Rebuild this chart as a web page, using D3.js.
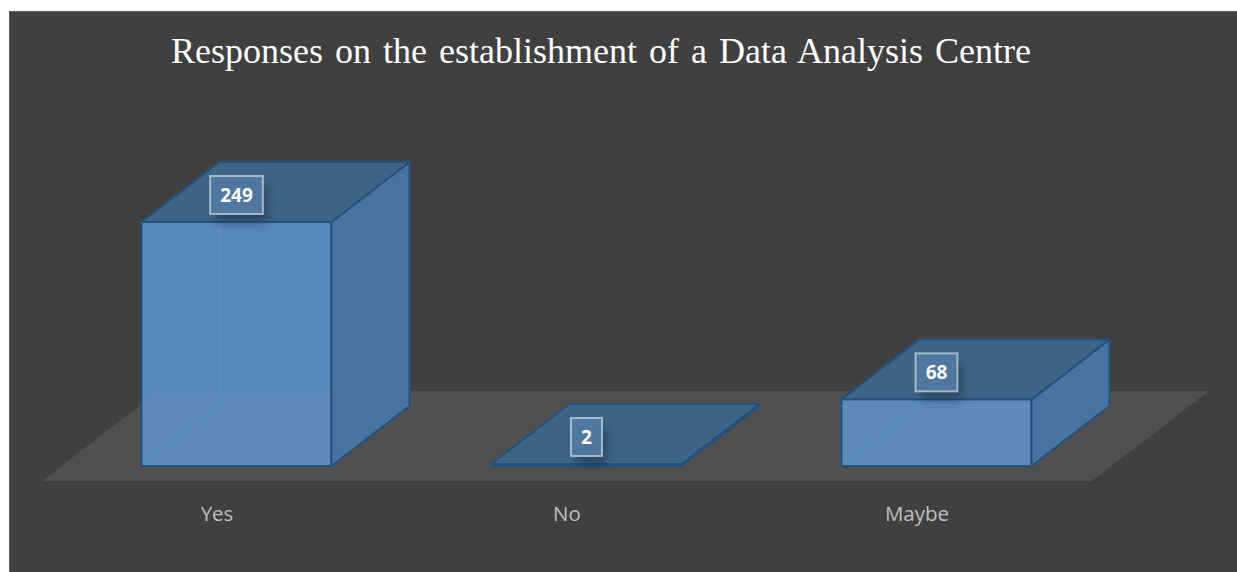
<!DOCTYPE html>
<html>
<head>
<meta charset="utf-8">
<script src="https://cdn.jsdelivr.net/npm/d3@7"></script>
<style>
  body { margin: 0; background: #ffffff; }
  svg { display: block; }
</style>
</head>
<body>
<div id="chart"></div>
<script>
var width = 1237
var height = 572

// data
var categories = ['Yes', 'No', 'Maybe'];
var responses = [249, 2, 68];
var chartTitle = 'Responses on the establishment of a Data Analysis Centre';

var svg = d3.select('#chart')
            .append('svg')
            .attr('width', width)
            .attr('height', height);

var defs = svg.append('defs');
var blur = defs.append('filter').attr('id', 'lblShadow')
               .attr('x', '-50%').attr('y', '-50%').attr('width', '200%').attr('height', '200%');
blur.append('feGaussianBlur').attr('stdDeviation', 5);

// panel
svg.append('rect')
   .attr('x', 9.5).attr('y', 11.5)
   .attr('width', width).attr('height', height)
   .attr('fill', '#404040')
   .attr('stroke', '#5c5c5c');

svg.append('text')
   .attr('x', 601)
   .attr('y', 63)
   .attr('text-anchor', 'middle')
   .attr('font-family', '"Liberation Serif", "Times New Roman", serif')
   .attr('font-size', 36)
   .attr('word-spacing', 3)
   .attr('fill', '#ffffff')
   .text(chartTitle);

//////////////// 3D geometry ////////////////
var floorFront = 481;
var floorDepth = { dx: 117, dy: 90 };
var barDepth = { dx: 78, dy: 60 };
var shift = { dx: (floorDepth.dx - barDepth.dx) / 2, dy: (floorDepth.dy - barDepth.dy) / 2 };

var x = d3.scaleBand()
          .domain(categories)
          .range([42, 1092])
          .paddingInner(0)
          .paddingOuter(0);

var barW = 190;

var y = d3.scaleLinear()
          .domain([0, 250])
          .range([0, 245]);

function pts(a) { return a.map(function(p){ return p.join(','); }).join(' '); }

// floor
var x0 = x.range()[0], x1 = x.range()[1];
svg.append('polygon')
   .attr('points', pts([
      [x0, floorFront], [x1, floorFront],
      [x1 + floorDepth.dx, floorFront - floorDepth.dy],
      [x0 + floorDepth.dx, floorFront - floorDepth.dy]]))
   .attr('fill', '#514f50');

var data = categories.map(function(c, i){ return { cat: c, value: responses[i] }; });

var stroke = '#24527f';

var bars = svg.selectAll('g.bar')
              .data(data)
              .enter()
              .append('g')
              .attr('class', 'bar');

bars.each(function(d){
    var g = d3.select(this);
    var l = x(d.cat) + (x.bandwidth() - barW) / 2 + shift.dx;
    var r = l + barW;
    var b = floorFront - shift.dy;
    var t = b - y(d.value);
    var dx = barDepth.dx, dy = barDepth.dy;

    // hidden back edges
    g.append('polyline')
     .attr('points', pts([[l, b], [l + dx, b - dy], [r + dx, b - dy]]))
     .attr('fill', 'none').attr('stroke', '#5d93c7').attr('stroke-width', 1.2);
    g.append('line')
     .attr('x1', l + dx).attr('y1', b - dy).attr('x2', l + dx).attr('y2', t - dy)
     .attr('stroke', '#5d93c7').attr('stroke-width', 1.2);

    if (t < b) {
      // front
      g.append('polygon')
       .attr('points', pts([[l, t], [r, t], [r, b], [l, b]]))
       .attr('fill', '#5b8fc4').attr('fill-opacity', 0.93)
       .attr('stroke', stroke).attr('stroke-width', 2).attr('stroke-linejoin', 'round');
      // side
      g.append('polygon')
       .attr('points', pts([[r, t], [r + dx, t - dy], [r + dx, b - dy], [r, b]]))
       .attr('fill', '#48759f')
       .attr('stroke', stroke).attr('stroke-width', 2).attr('stroke-linejoin', 'round');
    }
    // top
    g.append('polygon')
     .attr('points', pts([[l, t], [r, t], [r + dx, t - dy], [l + dx, t - dy]]))
     .attr('fill', '#3e6587')
     .attr('stroke', stroke).attr('stroke-width', 2).attr('stroke-linejoin', 'round');

    // data label
    var cx = (l + r) / 2, cy = t - 27;
    var lbl = g.append('g').attr('class', 'label');
    var shadow = lbl.append('rect');
    var box = lbl.append('rect');
    var txt = lbl.append('text')
       .attr('x', cx).attr('y', cy + 7)
       .attr('text-anchor', 'middle')
       .attr('font-family', '"Open Sans", sans-serif')
       .attr('font-weight', 'bold')
       .attr('font-size', 19)
       .attr('fill', '#ffffff')
       .text(d.value);
    var bw = txt.node().getBBox().width + 20, bh = 38;
    shadow.attr('x', cx - bw / 2 + 5).attr('y', cy - bh / 2 + 9)
          .attr('width', bw).attr('height', bh)
          .attr('fill', '#1e3348').attr('opacity', 0.55)
          .attr('filter', 'url(#lblShadow)');
    box.attr('x', cx - bw / 2).attr('y', cy - bh / 2)
       .attr('width', bw).attr('height', bh)
       .attr('fill', '#4f77a0')
       .attr('stroke', '#c9d3dd').attr('stroke-opacity', 0.75).attr('stroke-width', 2);
});

// category labels
svg.selectAll('text.cat')
   .data(categories)
   .enter()
   .append('text')
   .attr('class', 'cat')
   .attr('x', function(d){ return x(d) + x.bandwidth() / 2; })
   .attr('y', 521)
   .attr('text-anchor', 'middle')
   .attr('font-family', '"Open Sans", sans-serif')
   .attr('font-size', 20.5)
   .attr('fill', '#bfbfbf')
   .text(function(d){ return d; });
</script>
</body>
</html>
